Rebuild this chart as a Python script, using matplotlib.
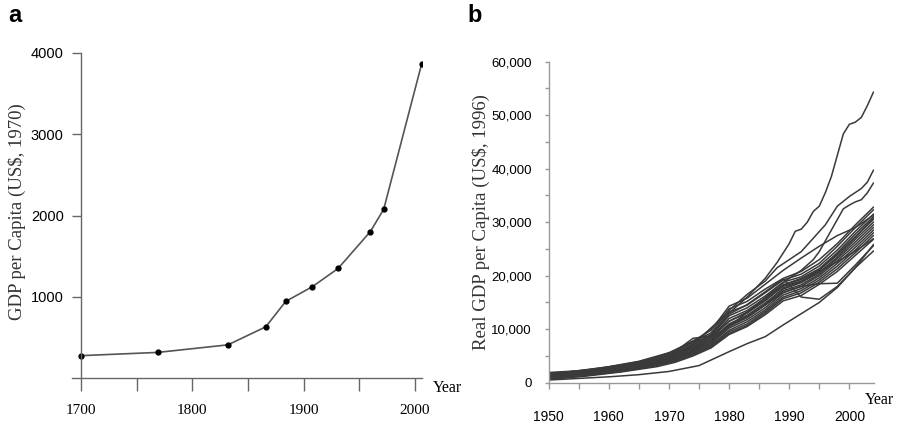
import numpy as np
import matplotlib
matplotlib.use("Agg")
import matplotlib.pyplot as plt
from matplotlib.ticker import FuncFormatter, MultipleLocator

# panel a: long-run GDP per capita
years_a = [1700, 1769, 1832, 1866, 1884, 1908, 1931, 1960, 1972, 2006]
gdp_a = [275, 315, 408, 630, 943, 1125, 1348, 1802, 2077, 3862]

# panel b: many regions, real GDP per capita (US$ 1996)
years_b = [1950, 1953, 1956, 1959, 1962, 1965, 1968, 1971, 1974, 1977,
           1980, 1983, 1986, 1989, 1992, 1995, 1998, 2001, 2004]
bundle = [
    [1900, 2100, 2300, 2700, 3200, 3800, 4500, 5700, 7600, 9300, 13800, 15200, 17500, 19500, 20800, 23000, 26000, 29500, 32800],
    [1700, 1900, 2200, 2600, 3100, 3700, 4400, 5500, 7200, 9000, 13200, 14500, 16800, 19200, 20300, 22300, 25500, 29000, 32300],
    [1600, 1800, 2100, 2500, 3000, 3500, 4200, 5300, 7000, 8800, 12500, 14000, 16200, 18800, 19800, 21800, 24800, 28300, 31500],
    [1500, 1700, 2000, 2400, 2900, 3400, 4100, 5100, 6800, 8500, 12000, 13500, 15800, 18300, 19500, 21300, 24300, 27800, 31000],
    [1400, 1600, 1900, 2300, 2800, 3300, 4000, 5000, 6600, 8300, 11500, 13000, 15300, 18000, 19000, 21000, 24000, 27300, 30500],
    [1300, 1500, 1800, 2200, 2600, 3100, 3800, 4800, 6300, 8000, 11000, 12600, 14900, 17500, 18700, 20600, 23500, 26800, 30000],
    [1200, 1400, 1700, 2100, 2500, 3000, 3700, 4600, 6100, 7700, 10600, 12200, 14500, 17200, 18300, 20300, 23200, 26300, 29500],
    [1100, 1300, 1600, 2000, 2400, 2900, 3500, 4400, 5800, 7400, 10200, 11800, 14000, 16800, 18000, 20000, 22800, 25800, 29000],
    [1000, 1200, 1500, 1900, 2300, 2800, 3400, 4300, 5600, 7100, 9800, 11400, 13600, 16400, 17600, 19600, 22300, 25300, 28500],
    [900, 1100, 1400, 1800, 2200, 2700, 3300, 4200, 5400, 6900, 9500, 11000, 13300, 16000, 17200, 19200, 21800, 24800, 28000],
    [800, 1000, 1300, 1700, 2100, 2600, 3200, 4000, 5200, 6700, 9200, 10700, 13000, 15700, 16800, 18800, 21300, 24300, 27500],
    [700, 900, 1200, 1600, 2000, 2500, 3000, 3800, 5000, 6500, 9000, 10500, 12700, 15300, 16300, 18400, 20800, 23800, 26800],
    [1500, 1800, 2100, 2500, 3000, 3600, 4400, 5800, 8300, 8700, 11500, 13200, 15500, 18200, 19300, 21100, 23900, 27200, 30800],
    [1400, 1700, 2000, 2400, 2900, 3500, 4300, 5400, 7200, 8800, 12800, 14600, 17000, 19400, 16000, 15600, 18000, 21500, 24600],
    [900, 1100, 1400, 1800, 2200, 2700, 3300, 4300, 5800, 7400, 10500, 12200, 14500, 16900, 18000, 18500, 18600, 22000, 25600],
    [1800, 2000, 2400, 2800, 3300, 3900, 4700, 6000, 7800, 9800, 14300, 15800, 18400, 21000, 23300, 25500, 27500, 29000, 31300],
    [1200, 1400, 1700, 2000, 2400, 2900, 3600, 4500, 6000, 7800, 10800, 12400, 14600, 17700, 18900, 20800, 22600, 24600, 26900],
]

top_years = [1950, 1955, 1960, 1965, 1970, 1975, 1980, 1983, 1986, 1988, 1990, 1991, 1992,
             1993, 1994, 1995, 1996, 1997, 1998, 1999, 2000, 2001, 2002, 2003, 2004]
top_vals = [1700, 2200, 3000, 4000, 5600, 8300, 13000, 16000, 19500, 22500, 26000, 28300, 28700,
            30000, 32000, 33000, 35500, 38500, 42500, 46500, 48300, 48700, 49600, 51800, 54300]

second_years = [1950, 1955, 1960, 1965, 1970, 1975, 1980, 1983, 1986, 1988, 1990, 1992,
                1994, 1996, 1998, 2000, 2002, 2003, 2004]
second_vals = [1600, 2100, 2900, 3900, 5500, 8000, 13500, 16500, 19000, 21500, 23000, 24500,
               27000, 29500, 33000, 34800, 36300, 37500, 39700]

third_years = [1950, 1955, 1960, 1965, 1970, 1975, 1980, 1984, 1988, 1990, 1992, 1994,
               1995, 1997, 1999, 2000, 2001, 2002, 2003, 2004]
third_vals = [1200, 1600, 2300, 3200, 4600, 7000, 10500, 14000, 17800, 19500, 21000, 23000,
              24500, 28500, 32500, 33200, 33800, 34200, 35500, 37300]

low_years = [1950, 1955, 1960, 1965, 1970, 1975, 1980, 1983, 1986, 1989, 1992, 1995, 1998, 2001, 2004]
low_vals = [500, 800, 1100, 1500, 2100, 3200, 5800, 7300, 8600, 10800, 12900, 15000, 17800, 21500, 25800]

sans = ['Liberation Sans', 'DejaVu Sans']
serif = ['Liberation Serif', 'DejaVu Serif']

fig = plt.figure(figsize=(8.97, 4.25), dpi=100)

# ---- panel a
ax1 = fig.add_axes([72 / 897, 1 - 378 / 425, 350 / 897, 325 / 425])
ax1.plot(years_a, gdp_a, color="#555555", lw=1.2, marker="o", ms=3.5,
         mfc="black", mec="black")
ax1.set_xlim(1691.9, 2006.4)
ax1.set_ylim(0, 4000)
for s in ["top", "right"]:
    ax1.spines[s].set_visible(False)
ax1.spines["left"].set_position(("data", 1700))
for s in ["left", "bottom"]:
    ax1.spines[s].set_color("#666666")
    ax1.spines[s].set_linewidth(1.0)
ax1.set_xticks(np.arange(1700, 2001, 50))
ax1.xaxis.set_major_formatter(FuncFormatter(lambda v, p: "%d" % v if v % 100 == 0 else ""))
ax1.set_yticks([1000, 2000, 3000, 4000])
ax1.tick_params(axis="x", direction="out", length=9.5, width=1.0, color="#666666", pad=9)
ax1.tick_params(axis="y", direction="out", length=6.5, width=1.0, color="#666666", pad=6)
for t in ax1.get_xticklabels():
    t.set_family(serif)
    t.set_fontsize(11)
for t in ax1.get_yticklabels():
    t.set_family(sans)
    t.set_fontsize(10.5)
fig.text(433 / 897, 1 - 388 / 425, "Year", family=serif, fontsize=11.5, ha="left", va="center")
fig.text(17 / 897, 1 - 212 / 425, "GDP per Capita (US$, 1970)", family=serif, fontsize=13.5,
         rotation=90, ha="center", va="center", color="#333333")
fig.text(8 / 897, 1 - 16 / 425, "a", family=sans,
         fontsize=17, fontweight="bold", ha="left", va="center")

# ---- panel b
ax2 = fig.add_axes([548.7 / 897, 1 - 382.7 / 425, 325.3 / 897, 321 / 425])
for vals in bundle:
    ax2.plot(years_b, vals, color="#3a3a3a", lw=1.1)
ax2.plot(top_years, top_vals, color="#3a3a3a", lw=1.1)
ax2.plot(second_years, second_vals, color="#3a3a3a", lw=1.1)
ax2.plot(third_years, third_vals, color="#3a3a3a", lw=1.1)
ax2.plot(low_years, low_vals, color="#3a3a3a", lw=1.1)
ax2.set_xlim(1950, 2004.1)
ax2.set_ylim(0, 60000)
for s in ["top", "right"]:
    ax2.spines[s].set_visible(False)
for s in ["left", "bottom"]:
    ax2.spines[s].set_color("#999999")
    ax2.spines[s].set_linewidth(1.0)
ax2.set_xticks(np.arange(1950, 2004, 5))
ax2.xaxis.set_major_formatter(FuncFormatter(lambda v, p: "%d" % v if v % 10 == 0 else ""))
ax2.yaxis.set_major_locator(MultipleLocator(5000))
ax2.yaxis.set_major_formatter(FuncFormatter(lambda v, p: "{:,.0f}".format(v) if v % 10000 == 0 else ""))
ax2.tick_params(axis="x", direction="out", length=4, width=1.0, color="#999999", pad=16)
ax2.tick_params(axis="y", direction="out", length=3, width=1.0, color="#999999", pad=9)
for t in ax2.get_xticklabels():
    t.set_family(sans)
    t.set_fontsize(10)
for t in ax2.get_yticklabels():
    t.set_family(sans)
    t.set_fontsize(9.5)
fig.text(879 / 897, 1 - 400 / 425, "Year", family=serif, fontsize=11.5, ha="center", va="center")
fig.text(481 / 897, 1 - 222 / 425, "Real GDP per Capita (US$, 1996)", family=serif, fontsize=13.5,
         rotation=90, ha="center", va="center", color="#333333")
fig.text(467 / 897, 1 - 15 / 425, "b", family=sans,
         fontsize=17, fontweight="bold", ha="left", va="center")

fig.savefig("out.png", dpi=100)
